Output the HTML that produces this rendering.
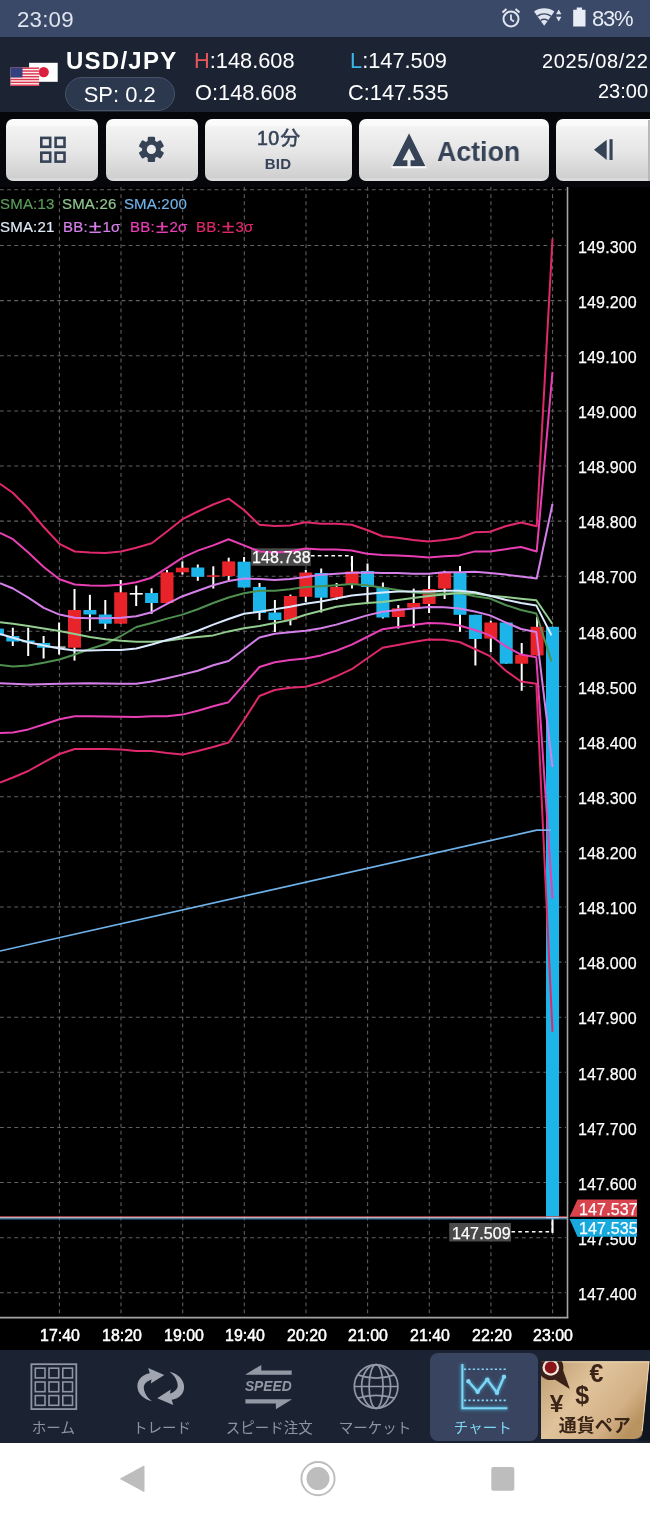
<!DOCTYPE html>
<html><head><meta charset="utf-8">
<style>
html,body{margin:0;padding:0;background:#000;}
body{width:650px;height:1518px;position:relative;overflow:hidden;font-family:"Liberation Sans",sans-serif;color:#fff;}
.abs{position:absolute;}
div.abs{will-change:transform;}
#status{left:0;top:0;width:650px;height:37px;background:#3a4967;}
#status .time{left:16.5px;top:6.5px;font-size:22.3px;color:#dfe4ee;letter-spacing:0.2px;}
#status .pct{left:592px;top:5.5px;font-size:22px;color:#e8ecf4;letter-spacing:-1.2px;}
#header{left:0;top:37px;width:650px;height:75px;background:#1c2434;}
.pair{left:65.5px;top:46.5px;font-size:24px;font-weight:bold;letter-spacing:1.25px;color:#fff;}
.sp{left:65px;top:76.5px;width:107.5px;height:31.5px;border:1.5px solid #465369;border-radius:17px;background:#2c384e;text-align:center;font-size:22px;line-height:33.5px;color:#fff;}
.ohlc{font-size:21.8px;letter-spacing:0px;color:#fff;white-space:nowrap;}
.dt{font-size:20px;color:#fff;white-space:nowrap;text-align:right;right:3px;}
#toolbar{left:0;top:112px;width:650px;height:75px;background:#05070a;}
.btn{position:absolute;top:118.8px;height:62px;border-radius:7px;background:linear-gradient(#fcfcfc 0,#fafafa 10%,#f2f2f2 13%,#e5e5e5 55%,#cfcfcf 95%,#dcdcdc 97%,#d8d8d8 100%);}
.lg{font-size:15px;white-space:nowrap;letter-spacing:0.2px;-webkit-text-stroke:0.2px currentColor;}
.yl{left:577.6px;font-size:16px;color:#fff;white-space:nowrap;letter-spacing:0.15px;-webkit-text-stroke:0.25px #fff;}
.lb{font-size:16px;color:#fff;white-space:nowrap;letter-spacing:0.15px;-webkit-text-stroke:0.25px #fff;}
.tl{top:1326.7px;font-size:15.9px;font-weight:normal;-webkit-text-stroke:0.5px #fff;color:#fff;white-space:nowrap;width:60px;text-align:center;}
#nav{left:0;top:1350px;width:650px;height:93px;background:#1b2333;}
.nl{top:1417.5px;font-size:14.5px;color:#8d93a0;white-space:nowrap;width:108px;text-align:center;}
#android{left:0;top:1443px;width:650px;height:75px;background:#fff;}
</style></head><body>
<!-- STATUS BAR -->
<div id="status" class="abs">
 <div class="abs time">23:09</div>
 <svg class="abs" style="left:498px;top:6px" width="90" height="24" viewBox="0 0 90 24">
  <!-- alarm -->
  <g fill="none" stroke="#dfe4ee" stroke-width="2">
   <circle cx="13" cy="13" r="7.5"/>
   <path d="M13 8.5v5l3 2" stroke-width="1.8"/>
   <path d="M4.5 6.5l4-3.5M21.5 6.5l-4-3.5" stroke-width="2.2"/>
  </g>
  <!-- wifi -->
  <path d="M46.2 19.8 L36 5.600 A17.6 17.6 0 0 1 56.4 5.600 Z" fill="#dfe4ee"/>
  <g fill="none" stroke="#3a4967" stroke-width="1.5">
   <path d="M42.5 14.600 A6.4 6.4 0 0 1 49.9 14.600"/>
   <path d="M39.400 10.200 A11.8 11.8 0 0 1 53 10.200"/>
  </g>
  <path d="M58 8.300 L60.700 3.600 L63.400 8.300 Z M58 10.700 L60.700 15.400 L63.400 10.700 Z" fill="#dfe4ee"/>
  <!-- battery -->
  <path d="M78.700 1.400 h5.300 v2.400 h3.500 v16.800 h-12.300 v-16.800 h3.500 z" fill="#e8ecf4"/>
 </svg>
 <div class="abs pct">83%</div>
</div>
<!-- HEADER -->
<div id="header" class="abs"></div>
<svg class="abs" style="left:8px;top:60px" width="52" height="28" viewBox="0 0 52 28">
 <!-- JP flag -->
 <rect x="21.1" y="2.8" width="28.6" height="19" fill="#fff"/>
 <circle cx="35.7" cy="12.1" r="5.2" fill="#dc1f3c"/>
 <!-- US flag -->
 <rect x="2.5" y="7.5" width="28.6" height="18.4" fill="#fbeff0"/>
 <g fill="#dc3550"><rect x="2.5" y="7.50" width="28.6" height="1.42"/><rect x="2.5" y="10.33" width="28.6" height="1.42"/><rect x="2.5" y="13.16" width="28.6" height="1.42"/><rect x="2.5" y="15.99" width="28.6" height="1.42"/><rect x="2.5" y="18.82" width="28.6" height="1.42"/><rect x="2.5" y="21.65" width="28.6" height="1.42"/><rect x="2.5" y="24.48" width="28.6" height="1.42"/></g>
 <rect x="2.5" y="7.500" width="12" height="9.900" fill="#34417f"/>
</svg>
<div class="abs pair">USD/JPY</div>
<div class="abs sp">SP: 0.2</div>
<div class="abs ohlc" style="left:194px;top:48px"><span style="color:#e8555a">H</span>:148.608</div>
<div class="abs ohlc" style="left:194.5px;top:79.5px">O:148.608</div>
<div class="abs ohlc" style="left:350px;top:48px"><span style="color:#39b6e6">L</span>:147.509</div>
<div class="abs ohlc" style="left:348px;top:79.5px">C:147.535</div>
<div class="abs dt" style="top:49.5px;letter-spacing:0.65px;right:1.5px">2025/08/22</div>
<div class="abs dt" style="top:79.5px;right:2px">23:00</div>
<!-- TOOLBAR -->
<div id="toolbar" class="abs"></div>
<div class="btn" style="left:6px;width:92px"></div>
<div class="btn" style="left:106px;width:92px"></div>
<div class="btn" style="left:204.8px;width:147.3px"></div>
<div class="btn" style="left:359px;width:190px"></div>
<div class="btn" style="left:556px;width:110px"></div>
<div class="abs" style="left:648px;top:119.5px;width:2px;height:61px;background:#b9b9b9"></div>
<svg class="abs" style="left:0;top:112px" width="650" height="75" viewBox="0 112 650 75">
 <!-- grid icon -->
 <g fill="none" stroke="#364357" stroke-width="2.6">
  <rect x="41.3" y="137.9" width="8.9" height="8.9"/><rect x="55.6" y="137.9" width="8.9" height="8.9"/>
  <rect x="41.3" y="152.7" width="8.9" height="8.9"/><rect x="55.6" y="152.7" width="8.9" height="8.9"/>
 </g>
 <!-- gear -->
 <g transform="translate(151.4,149.4)" fill="#364357">
  <circle r="9.4"/>
  <rect x="-3.700" y="-12.700" width="7.400" height="25.400" rx="1.300"/>
  <rect x="-3.700" y="-12.700" width="7.400" height="25.400" rx="1.300" transform="rotate(60)"/>
  <rect x="-3.700" y="-12.700" width="7.400" height="25.400" rx="1.300" transform="rotate(120)"/>
  <circle r="4.600" fill="#ececec"/>
 </g>
 <!-- action icon -->
 <path d="M409.1 132.5 L426 166.600 H391.8 Z" fill="#364357" stroke="#f4f4f4" stroke-width="0.8"/>
 <path d="M409.1 148.2 L415.1 160.200 H410.6 V167 H407.4 V160.200 H402.6 Z" fill="#eaeaea"/>
 <path d="M391.400 167.500h35" stroke="#fbfbfb" stroke-width="1.7"/>
 <!-- prev icon -->
 <path d="M594 149.700 L606.700 139.700 V160 Z" fill="#364357"/>
 <rect x="609.500" y="139.200" width="3.100" height="20.800" fill="#364357"/>
</svg>
<div class="abs" style="left:257.4px;top:127.3px;font-size:19.6px;font-weight:normal;-webkit-text-stroke:0.6px #364357;color:#364357;letter-spacing:0.3px">10</div>
<div class="abs" style="left:204px;top:155.3px;width:148px;text-align:center;font-size:15px;letter-spacing:0.3px;font-weight:bold;color:#364357;">BID</div>
<div class="abs" style="left:437.4px;top:135.8px;font-size:28px;font-weight:bold;color:#364357;transform:scaleX(0.955);transform-origin:0 0">Action</div>
<!-- CHART -->
<svg class="abs" style="left:0;top:0" width="650" height="1518" viewBox="0 0 650 1518">
<rect x="0" y="187" width="650" height="1163" fill="#000"/>
<g stroke="#626262" stroke-width="1.05" stroke-dasharray="3.8 3.35"><line x1="59.4" y1="187" x2="59.4" y2="1317" />
<line x1="121.0" y1="187" x2="121.0" y2="1317" />
<line x1="182.7" y1="187" x2="182.7" y2="1317" />
<line x1="244.3" y1="187" x2="244.3" y2="1317" />
<line x1="306.0" y1="187" x2="306.0" y2="1317" />
<line x1="367.6" y1="187" x2="367.6" y2="1317" />
<line x1="429.3" y1="187" x2="429.3" y2="1317" />
<line x1="490.9" y1="187" x2="490.9" y2="1317" />
<line x1="552.6" y1="187" x2="552.6" y2="1317" />
<line x1="0" y1="245.5" x2="566" y2="245.5" />
<line x1="0" y1="300.6" x2="566" y2="300.6" />
<line x1="0" y1="355.7" x2="566" y2="355.7" />
<line x1="0" y1="410.9" x2="566" y2="410.9" />
<line x1="0" y1="466.0" x2="566" y2="466.0" />
<line x1="0" y1="521.1" x2="566" y2="521.1" />
<line x1="0" y1="576.2" x2="566" y2="576.2" />
<line x1="0" y1="631.3" x2="566" y2="631.3" />
<line x1="0" y1="686.5" x2="566" y2="686.5" />
<line x1="0" y1="741.6" x2="566" y2="741.6" />
<line x1="0" y1="796.7" x2="566" y2="796.7" />
<line x1="0" y1="851.8" x2="566" y2="851.8" />
<line x1="0" y1="906.9" x2="566" y2="906.9" />
<line x1="0" y1="962.1" x2="566" y2="962.1" />
<line x1="0" y1="1017.2" x2="566" y2="1017.2" />
<line x1="0" y1="1072.3" x2="566" y2="1072.3" />
<line x1="0" y1="1127.4" x2="566" y2="1127.4" />
<line x1="0" y1="1182.5" x2="566" y2="1182.5" />
<line x1="0" y1="1237.7" x2="566" y2="1237.7" />
<line x1="0" y1="1292.8" x2="566" y2="1292.8" />
<line x1="0" y1="189.8" x2="566" y2="189.8" /></g>
<line x1="567.5" y1="187" x2="567.5" y2="1318" stroke="#a4a4a4" stroke-width="1.6"/>
<line x1="0" y1="1317.6" x2="568.3" y2="1317.6" stroke="#a4a4a4" stroke-width="1.6"/>
<line x1="-2.6" y1="626.0" x2="-2.6" y2="640.0" stroke="#fff" stroke-width="2"/>
<rect x="-9.1" y="628.6" width="13.0" height="6.8" fill="#1db5e9"/>
<line x1="12.8" y1="627.7" x2="12.8" y2="646.0" stroke="#fff" stroke-width="2"/>
<rect x="6.3" y="636.0" width="13.0" height="5.5" fill="#1db5e9"/>
<line x1="28.2" y1="627.7" x2="28.2" y2="656.0" stroke="#fff" stroke-width="2"/>
<rect x="21.7" y="640.5" width="13.0" height="1.8" fill="#1db5e9"/>
<line x1="43.6" y1="636.0" x2="43.6" y2="658.5" stroke="#fff" stroke-width="2"/>
<rect x="37.1" y="643.0" width="13.0" height="4.7" fill="#1db5e9"/>
<line x1="59.1" y1="622.5" x2="59.1" y2="654.5" stroke="#fff" stroke-width="2"/>
<rect x="52.6" y="646.5" width="13.0" height="1.2" fill="#ffffff"/>
<line x1="74.5" y1="589.0" x2="74.5" y2="660.6" stroke="#fff" stroke-width="2"/>
<rect x="68.0" y="610.0" width="13.0" height="37.7" fill="#e8232a"/>
<line x1="89.9" y1="594.8" x2="89.9" y2="630.8" stroke="#fff" stroke-width="2"/>
<rect x="83.4" y="610.0" width="13.0" height="4.5" fill="#1db5e9"/>
<line x1="105.3" y1="600.0" x2="105.3" y2="629.0" stroke="#fff" stroke-width="2"/>
<rect x="98.8" y="614.5" width="13.0" height="9.2" fill="#1db5e9"/>
<line x1="120.7" y1="580.0" x2="120.7" y2="623.7" stroke="#fff" stroke-width="2"/>
<rect x="114.2" y="592.3" width="13.0" height="31.4" fill="#e8232a"/>
<line x1="136.2" y1="585.5" x2="136.2" y2="606.0" stroke="#fff" stroke-width="2"/>
<rect x="129.7" y="593.0" width="13.0" height="1.6" fill="#ffffff"/>
<line x1="151.6" y1="588.3" x2="151.6" y2="613.8" stroke="#fff" stroke-width="2"/>
<rect x="145.1" y="593.0" width="13.0" height="10.0" fill="#1db5e9"/>
<line x1="167.0" y1="570.0" x2="167.0" y2="603.0" stroke="#fff" stroke-width="2"/>
<rect x="160.5" y="572.3" width="13.0" height="30.7" fill="#e8232a"/>
<line x1="182.4" y1="561.5" x2="182.4" y2="574.5" stroke="#fff" stroke-width="2"/>
<rect x="175.9" y="567.7" width="13.0" height="4.6" fill="#e8232a"/>
<line x1="197.8" y1="564.5" x2="197.8" y2="580.8" stroke="#fff" stroke-width="2"/>
<rect x="191.3" y="567.5" width="13.0" height="9.3" fill="#1db5e9"/>
<line x1="213.3" y1="566.3" x2="213.3" y2="588.5" stroke="#fff" stroke-width="2"/>
<rect x="206.8" y="575.3" width="13.0" height="1.5" fill="#e8232a"/>
<line x1="228.7" y1="557.7" x2="228.7" y2="580.0" stroke="#fff" stroke-width="2"/>
<rect x="222.2" y="561.4" width="13.0" height="14.6" fill="#e8232a"/>
<line x1="244.1" y1="557.0" x2="244.1" y2="587.5" stroke="#fff" stroke-width="2"/>
<rect x="237.6" y="561.7" width="13.0" height="25.8" fill="#1db5e9"/>
<line x1="259.5" y1="583.0" x2="259.5" y2="620.0" stroke="#fff" stroke-width="2"/>
<rect x="253.0" y="587.0" width="13.0" height="26.0" fill="#1db5e9"/>
<line x1="274.9" y1="600.0" x2="274.9" y2="632.0" stroke="#fff" stroke-width="2"/>
<rect x="268.4" y="612.5" width="13.0" height="7.5" fill="#1db5e9"/>
<line x1="290.4" y1="594.6" x2="290.4" y2="625.4" stroke="#fff" stroke-width="2"/>
<rect x="283.9" y="596.0" width="13.0" height="24.0" fill="#e8232a"/>
<line x1="305.8" y1="570.0" x2="305.8" y2="602.0" stroke="#fff" stroke-width="2"/>
<rect x="299.3" y="572.5" width="13.0" height="24.3" fill="#e8232a"/>
<line x1="321.2" y1="568.5" x2="321.2" y2="612.5" stroke="#fff" stroke-width="2"/>
<rect x="314.7" y="573.0" width="13.0" height="24.7" fill="#1db5e9"/>
<line x1="336.6" y1="583.0" x2="336.6" y2="600.0" stroke="#fff" stroke-width="2"/>
<rect x="330.1" y="587.0" width="13.0" height="10.7" fill="#e8232a"/>
<line x1="352.0" y1="556.0" x2="352.0" y2="588.5" stroke="#fff" stroke-width="2"/>
<rect x="345.5" y="571.5" width="13.0" height="13.3" fill="#e8232a"/>
<line x1="367.5" y1="563.5" x2="367.5" y2="603.5" stroke="#fff" stroke-width="2"/>
<rect x="361.0" y="571.0" width="13.0" height="16.0" fill="#1db5e9"/>
<line x1="382.9" y1="582.5" x2="382.9" y2="618.5" stroke="#fff" stroke-width="2"/>
<rect x="376.4" y="587.7" width="13.0" height="29.8" fill="#1db5e9"/>
<line x1="398.3" y1="605.0" x2="398.3" y2="628.6" stroke="#fff" stroke-width="2"/>
<rect x="391.8" y="608.3" width="13.0" height="8.7" fill="#e8232a"/>
<line x1="413.7" y1="588.6" x2="413.7" y2="627.7" stroke="#fff" stroke-width="2"/>
<rect x="407.2" y="603.0" width="13.0" height="4.7" fill="#e8232a"/>
<line x1="429.1" y1="576.0" x2="429.1" y2="613.0" stroke="#fff" stroke-width="2"/>
<rect x="422.6" y="589.0" width="13.0" height="15.0" fill="#e8232a"/>
<line x1="444.6" y1="570.8" x2="444.6" y2="599.0" stroke="#fff" stroke-width="2"/>
<rect x="438.1" y="573.0" width="13.0" height="15.6" fill="#e8232a"/>
<line x1="460.0" y1="566.0" x2="460.0" y2="631.7" stroke="#fff" stroke-width="2"/>
<rect x="453.5" y="573.0" width="13.0" height="41.8" fill="#1db5e9"/>
<line x1="475.4" y1="614.8" x2="475.4" y2="665.5" stroke="#fff" stroke-width="2"/>
<rect x="468.9" y="614.8" width="13.0" height="24.2" fill="#1db5e9"/>
<line x1="490.8" y1="620.6" x2="490.8" y2="652.0" stroke="#fff" stroke-width="2"/>
<rect x="484.3" y="622.5" width="13.0" height="16.0" fill="#e8232a"/>
<line x1="506.2" y1="622.5" x2="506.2" y2="663.7" stroke="#fff" stroke-width="2"/>
<rect x="499.7" y="622.5" width="13.0" height="41.2" fill="#1db5e9"/>
<line x1="521.7" y1="643.0" x2="521.7" y2="690.8" stroke="#fff" stroke-width="2"/>
<rect x="515.2" y="654.8" width="13.0" height="8.9" fill="#e8232a"/>
<line x1="537.1" y1="617.0" x2="537.1" y2="655.4" stroke="#fff" stroke-width="2"/>
<rect x="530.6" y="626.8" width="13.0" height="28.6" fill="#e8232a"/>
<line x1="552.5" y1="626.8" x2="552.5" y2="1233.0" stroke="#fff" stroke-width="2"/>
<rect x="546.0" y="626.8" width="13.0" height="591.8" fill="#1db5e9"/>
<!-- high marker -->
<rect x="251.2" y="548.3" width="59.6" height="17.5" fill="#505050" fill-opacity="0.92"/>
<path d="M311 555.8H351.6V570.5" fill="none" stroke="#fff" stroke-width="1.5" stroke-dasharray="3.6 3.2"/>
<!-- low marker -->
<rect x="449.2" y="1223" width="61.8" height="18.5" fill="#505050" fill-opacity="0.92"/>
<path d="M511.5 1231.8H552.4V1218.8" fill="none" stroke="#fff" stroke-width="1.5" stroke-dasharray="3.6 3.2"/>
<polyline points="0.0,483.8 13.0,493.0 28.3,508.5 43.7,527.0 59.4,543.8 74.8,551.5 90.0,552.5 105.5,553.0 121.0,551.5 136.3,547.8 151.7,543.2 167.0,531.5 182.5,519.2 197.8,511.5 213.2,504.5 228.6,498.6 244.0,510.0 259.4,524.8 274.8,526.0 290.0,525.4 305.5,522.3 321.0,523.8 336.3,523.8 351.7,524.8 367.0,530.0 382.5,536.2 397.8,537.8 413.2,540.0 428.6,541.5 444.0,540.0 459.4,537.8 474.8,532.3 490.0,531.7 505.5,526.2 521.0,522.5 536.7,526.2 552.5,238.7" fill="none" stroke="#e0286c" stroke-width="2" stroke-linejoin="round"/>
<polyline points="0.0,782.5 13.0,777.5 28.3,771.0 43.7,762.3 59.4,754.0 74.8,749.0 90.0,749.0 105.5,749.0 121.0,749.4 136.3,751.0 151.7,751.0 167.0,753.0 182.5,754.6 197.8,751.0 213.2,747.0 228.6,742.5 244.0,720.0 259.4,696.0 274.8,690.0 290.0,687.7 305.5,686.8 321.0,682.5 336.3,676.3 351.7,669.2 367.0,658.5 382.5,647.7 397.8,645.0 413.2,642.0 428.6,639.5 444.0,639.8 459.4,642.0 474.8,649.0 490.0,656.2 505.5,670.5 521.0,681.5 536.3,683.8 552.5,1031.8" fill="none" stroke="#e0286c" stroke-width="2" stroke-linejoin="round"/>
<polyline points="0.0,533.0 13.0,539.2 28.3,552.5 43.7,567.0 59.4,579.2 74.8,584.5 90.0,585.4 105.5,585.7 121.0,584.8 136.3,582.3 151.7,577.7 167.0,567.8 182.5,557.7 197.8,550.6 213.2,545.4 228.6,539.2 244.0,545.4 259.4,551.5 274.8,552.5 290.0,551.5 305.5,548.5 321.0,549.4 336.3,549.4 351.7,550.6 367.0,553.7 382.5,555.0 397.8,555.4 413.2,556.3 428.6,557.5 444.0,556.3 459.4,555.4 474.8,551.4 490.0,551.4 505.5,549.2 521.0,547.0 536.7,551.5 552.5,371.8" fill="none" stroke="#e93fb4" stroke-width="2" stroke-linejoin="round"/>
<polyline points="0.0,733.0 13.0,732.5 28.3,729.4 43.7,724.5 59.4,719.2 74.8,716.2 90.0,716.2 105.5,716.5 121.0,716.8 136.3,717.0 151.7,716.2 167.0,716.2 182.5,714.6 197.8,710.8 213.2,706.2 228.6,702.2 244.0,684.6 259.4,667.0 274.8,662.2 290.0,660.0 305.5,658.5 321.0,655.4 336.3,650.8 351.7,644.6 367.0,637.0 382.5,629.2 397.8,627.0 413.2,625.0 428.6,623.0 444.0,623.5 459.4,625.5 474.8,630.0 490.0,635.4 505.5,646.2 521.0,654.6 536.3,657.2 552.5,898.7" fill="none" stroke="#e93fb4" stroke-width="2" stroke-linejoin="round"/>
<polyline points="0.0,583.2 13.0,588.5 28.3,597.7 43.7,607.8 59.4,614.6 74.8,617.7 90.0,618.3 105.5,618.3 121.0,617.7 136.3,616.2 151.7,612.2 167.0,603.8 182.5,596.2 197.8,590.8 213.2,585.2 228.6,581.0 244.0,578.5 259.4,579.0 274.8,580.0 290.0,579.0 305.5,577.0 321.0,574.8 336.3,573.8 351.7,572.8 367.0,572.6 382.5,573.0 397.8,573.0 413.2,573.8 428.6,573.8 444.0,572.3 459.4,572.3 474.8,571.7 490.0,573.0 505.5,574.6 521.0,576.6 536.7,578.5 552.5,504.0" fill="none" stroke="#d580ea" stroke-width="2" stroke-linejoin="round"/>
<polyline points="0.0,683.2 30.0,684.5 59.4,683.8 90.0,683.2 121.0,683.8 136.3,683.8 151.7,681.4 167.0,678.3 182.5,674.6 197.8,670.8 213.2,665.2 228.6,661.0 244.0,649.2 259.4,637.5 274.8,633.8 290.0,632.3 305.5,630.8 321.0,628.3 336.3,624.6 351.7,620.0 367.0,615.4 382.5,611.7 397.8,610.0 413.2,608.5 428.6,607.0 444.0,607.2 459.4,608.5 474.8,611.5 490.0,615.4 505.5,622.3 521.0,629.0 536.3,632.0 552.5,767.0" fill="none" stroke="#d580ea" stroke-width="2" stroke-linejoin="round"/>
<polyline points="0.0,951.0 536.7,830.2 551.0,830.2" fill="none" stroke="#6fb2ea" stroke-width="1.7" stroke-linejoin="round"/>
<polyline points="0.0,665.0 13.0,666.5 28.3,665.5 43.7,662.8 59.4,659.5 74.8,654.5 90.0,649.0 105.5,644.0 121.0,636.0 136.3,627.0 151.7,623.0 167.0,618.6 182.5,614.6 197.8,609.2 213.2,603.0 228.6,597.5 244.0,593.2 259.4,590.8 274.8,590.8 290.0,589.2 305.5,587.0 321.0,586.2 336.3,585.2 351.7,584.0 367.0,585.2 382.5,587.7 397.8,590.0 413.2,592.5 428.6,593.5 444.0,593.5 459.4,593.0 474.8,596.2 490.0,598.5 505.5,605.0 521.0,610.0 536.3,613.5 551.5,661.5" fill="none" stroke="#4f8f4f" stroke-width="2" stroke-linejoin="round"/>
<polyline points="0.0,622.3 13.0,623.8 28.3,626.0 43.7,628.5 59.4,631.0 74.8,634.0 90.0,637.0 105.5,639.2 121.0,640.8 136.3,641.7 151.7,641.7 167.0,640.8 182.5,638.6 197.8,637.0 213.2,635.4 228.6,631.4 244.0,628.3 259.4,626.0 274.8,623.0 290.0,620.0 305.5,614.8 321.0,610.8 336.3,606.8 351.7,604.6 367.0,603.0 382.5,602.0 397.8,600.0 413.2,598.0 428.6,596.0 444.0,594.5 459.4,593.0 474.8,593.5 490.0,595.7 505.5,597.0 521.0,598.8 536.3,600.3 552.3,623.8" fill="none" stroke="#93cc8f" stroke-width="2" stroke-linejoin="round"/>
<polyline points="0.0,634.0 13.0,637.7 28.3,642.3 43.7,645.4 59.4,648.5 74.8,650.6 90.0,650.6 105.5,650.0 121.0,650.0 136.3,648.5 151.7,644.5 167.0,640.0 182.5,636.0 197.8,630.8 213.2,624.6 228.6,619.0 244.0,613.8 259.4,611.7 274.8,609.2 290.0,606.8 305.5,603.7 321.0,601.5 336.3,598.5 351.7,595.4 367.0,594.0 382.5,592.5 397.8,591.5 413.2,591.4 428.6,591.4 444.0,590.8 459.4,590.8 474.8,592.3 490.0,595.7 505.5,599.7 521.0,603.0 536.3,605.4 551.5,635.4" fill="none" stroke="#dbeaff" stroke-width="2" stroke-linejoin="round"/>
<!-- price line -->
<line x1="0" y1="1216.700" x2="567" y2="1216.700" stroke="#cf4a52" stroke-width="1.1"/>
<line x1="0" y1="1217.900" x2="567" y2="1217.900" stroke="#e2eaf3" stroke-width="1.3"/>
<line x1="0" y1="1219" x2="567" y2="1219" stroke="#2f7fb5" stroke-width="0.9"/>
</svg>
<div class="abs yl" style="top:238.7px">149.300</div>
<div class="abs yl" style="top:293.8px">149.200</div>
<div class="abs yl" style="top:348.9px">149.100</div>
<div class="abs yl" style="top:404.1px">149.000</div>
<div class="abs yl" style="top:459.2px">148.900</div>
<div class="abs yl" style="top:514.3px">148.800</div>
<div class="abs yl" style="top:569.4px">148.700</div>
<div class="abs yl" style="top:624.5px">148.600</div>
<div class="abs yl" style="top:679.7px">148.500</div>
<div class="abs yl" style="top:734.8px">148.400</div>
<div class="abs yl" style="top:789.9px">148.300</div>
<div class="abs yl" style="top:845.0px">148.200</div>
<div class="abs yl" style="top:900.1px">148.100</div>
<div class="abs yl" style="top:955.3px">148.000</div>
<div class="abs yl" style="top:1010.4px">147.900</div>
<div class="abs yl" style="top:1065.5px">147.800</div>
<div class="abs yl" style="top:1120.6px">147.700</div>
<div class="abs yl" style="top:1175.7px">147.600</div>
<div class="abs yl" style="top:1230.9px">147.500</div>
<div class="abs yl" style="top:1286.0px">147.400</div>
<svg class="abs" style="left:560px;top:1190px" width="90" height="60" viewBox="560 1190 90 60">
<path d="M577.5 1199.5 H637 V1216.7 H569.6 Z" fill="#d8434e"/>
<path d="M569.6 1219 H637 V1236.7 H577.5 Z" fill="#18a9df"/>
</svg>
<div class="abs lb" style="left:252.2px;top:548.8px">148.738</div>
<div class="abs lb" style="left:452px;top:1224.6px">147.509</div>
<div class="abs lb" style="top:1200.7px;left:578.8px">147.537</div>
<div class="abs lb" style="top:1220px;left:578.8px">147.535</div>
<!-- legends -->
<div class="abs lg" style="left:0;top:195px"><span style="color:#5a9e5a">SMA:13</span> <span style="color:#8fc78f;margin-left:3px">SMA:26</span> <span style="color:#6fb2ea;margin-left:3px">SMA:200</span></div>
<div class="abs lg" style="left:0;top:218px;color:#dfe9f5">SMA:21</div>
<div class="abs lg" style="left:63px;top:218px;color:#d580ea">BB:<span style="display:inline-block;width:14.6px;text-align:center;transform:scale(1.5,1.18)">±</span>1σ</div>
<div class="abs lg" style="left:130px;top:218px;color:#e93fb4">BB:<span style="display:inline-block;width:14.6px;text-align:center;transform:scale(1.5,1.18)">±</span>2σ</div>
<div class="abs lg" style="left:196px;top:218px;color:#e0286c">BB:<span style="display:inline-block;width:14.6px;text-align:center;transform:scale(1.5,1.18)">±</span>3σ</div>
<div class="abs tl" style="left:30.2px">17:40</div>
<div class="abs tl" style="left:91.8px">18:20</div>
<div class="abs tl" style="left:153.5px">19:00</div>
<div class="abs tl" style="left:215.2px">19:40</div>
<div class="abs tl" style="left:276.8px">20:20</div>
<div class="abs tl" style="left:338.4px">21:00</div>
<div class="abs tl" style="left:400.1px">21:40</div>
<div class="abs tl" style="left:461.8px">22:20</div>
<div class="abs tl" style="left:523.4px">23:00</div>
<!-- NAV -->
<div id="nav" class="abs"></div>
<div class="abs" style="left:430.2px;top:1352.6px;width:108.3px;height:87.8px;border-radius:8px;background:#394560"></div>
<svg class="abs" style="left:0;top:1350px" width="650" height="93" viewBox="0 1350 650 93">
 <defs>
  <linearGradient id="tabg" x1="0" y1="0" x2="1" y2="0.6">
   <stop offset="0" stop-color="#9c7a52"/><stop offset="0.12" stop-color="#c6a57a"/><stop offset="0.45" stop-color="#e0c39b"/><stop offset="0.8" stop-color="#d3b086"/><stop offset="1" stop-color="#b8935f"/>
  </linearGradient>
  <filter id="glow" x="-20%" y="-20%" width="140%" height="140%"><feGaussianBlur stdDeviation="1.6"/></filter>
 </defs>
 <!-- currency tab -->
 <path d="M541 1361.2 H649.5 L642.5 1432 Q641.8 1439 634 1439 H541 Z" fill="url(#tabg)"/>
 <path d="M541.5 1361.8 H649 L642.2 1431" fill="none" stroke="#efd9b4" stroke-width="1.2" opacity="0.8"/>
 <path d="M649.8 1361 L642.8 1434 Q642 1440 636 1440.500 L650 1440.500 Z" fill="#0f151f"/>
 <!-- home grid -->
 <g fill="none" stroke="#8f95a2">
  <rect x="31.4" y="1364.2" width="44.9" height="44.9" stroke-width="1.8"/>
  <g stroke-width="1.6">
  <rect x="35.3" y="1368.2" width="9.7" height="9.7"/><rect x="49" y="1368.2" width="9.7" height="9.7"/><rect x="62.8" y="1368.2" width="9.7" height="9.7"/>
  <rect x="35.3" y="1382" width="9.700" height="9.7"/><rect x="49" y="1382" width="9.700" height="9.7"/><rect x="62.8" y="1382" width="9.700" height="9.7"/>
  <rect x="35.3" y="1395.6" width="9.7" height="9.7"/><rect x="49" y="1395.6" width="9.7" height="9.7"/><rect x="62.8" y="1395.6" width="9.7" height="9.7"/>
  </g>
 </g>
 <!-- trade arrows -->
 <g fill="#a0a5b0">
  <path id="cres" d="M151.9 1401.3 C143 1399 137.4 1393 137.4 1386.2 C137.4 1379 143 1374.5 149.8 1373.3 L148.2 1368.1 L164.3 1374.9 L150.8 1383.5 L151.5 1379.5 C147 1381 143.8 1384 143.8 1387.300 C143.8 1392 146.5 1397 151.9 1401.3 Z"/>
  <path d="M151.9 1401.3 C143 1399 137.4 1393 137.4 1386.2 C137.4 1379 143 1374.5 149.8 1373.3 L148.2 1368.1 L164.3 1374.9 L150.8 1383.5 L151.5 1379.5 C147 1381 143.8 1384 143.8 1387.300 C143.8 1392 146.5 1397 151.9 1401.3 Z" transform="rotate(180 160.75 1386.55)"/>
 </g>
 <!-- speed -->
 <g fill="#9298a4">
  <path d="M245.400 1374.5 L261.3 1364.9 V1370.5 H291.7 V1374.8 H245.4 Z"/>
  <path d="M291.700 1399.6 L275.9 1409.2 V1403.6 H245.4 V1399.3 H291.7 Z"/>
 </g>
 <text x="268.3" y="1391.3" font-family="Liberation Sans" font-size="13.8" font-weight="bold" font-style="italic" fill="#9298a4" text-anchor="middle">SPEED</text>
 <!-- globe -->
 <g fill="none" stroke="#9298a5" stroke-width="1.7">
  <circle cx="376.1" cy="1386.5" r="21.8"/>
  <ellipse cx="376.1" cy="1386.5" rx="7" ry="21.8"/>
  <ellipse cx="376.1" cy="1386.5" rx="14.5" ry="21.8"/>
  <path d="M354.300 1386.5h43.600"/>
  <path d="M357.8 1374.9 Q376.1 1381.5 394.4 1374.900"/>
  <path d="M357.8 1398.1 Q376.1 1392.7 394.4 1398.100"/>
 </g>
 <!-- chart icon -->
 <g fill="none" stroke="#48c4f0" stroke-width="4" opacity="0.55" filter="url(#glow)">
  <path d="M462.4 1364v44.300h45"/>
  <path d="M468.3 1381.3 L477.6 1391.7 L487.3 1379.6 L497 1392.8 L504 1376.8"/>
 </g>
 <g fill="none" stroke="#7fd6f5" stroke-width="2">
  <path d="M462.4 1364v44.3h45"/>
  <path d="M464 1369.2h43.500" stroke-dasharray="2.2 2.2" stroke-width="1.6"/>
  <path d="M464 1400.4h43.500" stroke-dasharray="2.2 2.2" stroke-width="1.6"/>
  <path d="M468.3 1381.3 L477.6 1391.7 L487.3 1379.6 L497 1392.8 L504 1376.8" stroke-width="2.4" stroke-linejoin="round"/>
 </g>
 <g fill="#7fd6f5"><circle cx="468.3" cy="1381.3" r="2.2"/><circle cx="477.6" cy="1391.7" r="2.2"/><circle cx="487.3" cy="1379.6" r="2.2"/><circle cx="497" cy="1392.8" r="2.2"/><circle cx="504" cy="1376.8" r="2.2"/></g>
 <!-- magnifier -->
 <clipPath id="tabclip"><rect x="541" y="1361.2" width="109" height="79"/></clipPath>
 <g clip-path="url(#tabclip)">
  <path d="M554 1379 L569.8 1389 L563 1370 Z" fill="#3a2018"/>
  <circle cx="550.8" cy="1367.5" r="12.6" fill="#3a2018"/>
  <circle cx="550.8" cy="1367.5" r="8.300" fill="#efe6dc"/>
  <circle cx="550.8" cy="1367.5" r="6" fill="#8a1518"/>
 </g>
 <g font-family="Liberation Sans" font-weight="bold" fill="#3a2418">
  <text x="589.5" y="1382" font-size="25">€</text>
  <text x="575.2" y="1403.5" font-size="25">$</text>
  <text x="549.8" y="1411.5" font-size="24.5">¥</text>
 </g>
</svg>
<svg class="abs" style="left:0;top:0" width="650" height="1518" viewBox="0 0 650 1518">
<g font-family="'Liberation Sans','Noto Sans CJK JP',sans-serif" font-size="14.5" text-anchor="middle" fill="#8d93a0">
<text x="53.4" y="1432.5">ホーム</text>
<text x="161.9" y="1432.5">トレード</text>
<text x="269.2" y="1432.5">スピード注文</text>
<text x="375" y="1432.5">マーケット</text>
<text x="482.8" y="1432.5" fill="#7fd6f5">チャート</text>
</g>
<text x="594.8" y="1432" font-family="'Liberation Sans','Noto Sans CJK JP',sans-serif" font-size="18" font-weight="bold" text-anchor="middle" fill="#3a2418">通貨ペア</text>
<text x="290.2" y="145" font-family="'Liberation Sans','Noto Sans CJK JP',sans-serif" font-size="19.6" text-anchor="middle" fill="#364357" stroke="#364357" stroke-width="0.6">分</text>
</svg>
<!-- ANDROID NAV -->
<div id="android" class="abs"></div>
<svg class="abs" style="left:0;top:1443px" width="650" height="75" viewBox="0 1443 650 75">
 <path d="M144 1466v25.500l-23.500-12.700z" fill="#bdbdbd" stroke="#bdbdbd" stroke-width="1" stroke-linejoin="round"/>
 <circle cx="318" cy="1478.600" r="16.600" fill="none" stroke="#bdbdbd" stroke-width="1.900"/>
 <circle cx="318" cy="1478.600" r="11.500" fill="#bdbdbd"/>
 <rect x="491.300" y="1467" width="23" height="23.800" rx="2" fill="#bdbdbd"/>
</svg>
</body></html>
